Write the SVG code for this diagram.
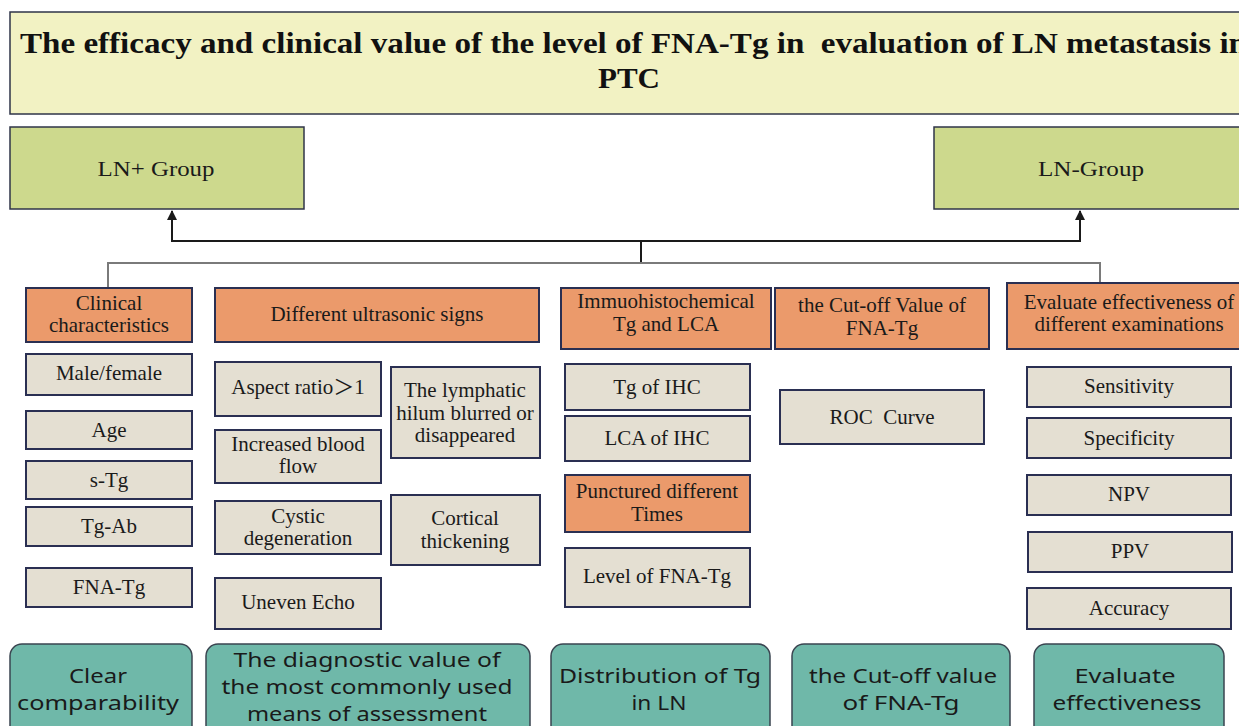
<svg xmlns="http://www.w3.org/2000/svg" width="1239" height="726" viewBox="0 0 1239 726">
<defs>
<style>
.title{fill:#f2f2c3;stroke:#2f3448;stroke-width:1.5}
.grp{fill:#cdd98d;stroke:#2f3448;stroke-width:1.5}
.org{fill:#eb9a6b;stroke:#2a2f52;stroke-width:2}
.gry{fill:#e4dfd2;stroke:#2a2f52;stroke-width:2}
.teal{fill:#6fb8a9;stroke:#3a4450;stroke-width:1.5}
.tt{font-family:"Liberation Serif",serif;font-weight:bold;font-size:30px;fill:#111}
.st{font-family:"Liberation Serif","Noto Sans CJK SC",serif;font-size:21px;fill:#1a1a1a;text-anchor:middle}
.gt{font-family:"Liberation Serif",serif;font-size:22px;fill:#1a1a1a;text-anchor:middle}
.sans{font-family:"Noto Sans","Open Sans",sans-serif;font-size:20px;fill:#1a1a1a;text-anchor:middle}
.ln{fill:none;stroke:#1a1a1a;stroke-width:2}
.ln2{fill:none;stroke:#7a7a7a;stroke-width:2}
</style>
<marker id="arr" viewBox="0 0 10 10" refX="9" refY="5" markerWidth="5" markerHeight="5" orient="auto">
<path d="M0,0 L10,5 L0,10 z" fill="#1a1a1a"/>
</marker>
</defs>
<rect width="1239" height="726" fill="#ffffff"/>

<g id="title">
<rect class="title" x="10" y="12" width="1240" height="102"/>
<text class="tt" x="20" y="53" textLength="1227" lengthAdjust="spacingAndGlyphs" xml:space="preserve">The efficacy and clinical value of the level of FNA-Tg in  evaluation of LN metastasis in</text>
<text class="tt" x="629" y="88" text-anchor="middle" textLength="62" lengthAdjust="spacingAndGlyphs">PTC</text>
</g>

<g id="ln-pos">
<rect class="grp" x="10" y="127" width="294" height="82"/>
<text class="gt" x="156" y="176" textLength="117" lengthAdjust="spacingAndGlyphs">LN+ Group</text>
</g>
<g id="ln-neg">
<rect class="grp" x="934" y="127" width="320" height="82"/>
<text class="gt" x="1091" y="176" textLength="106" lengthAdjust="spacingAndGlyphs">LN-Group</text>
</g>

<g id="connectors">
<polyline class="ln" points="641,241 172,241 172,211" marker-end="url(#arr)"/>
<polyline class="ln" points="641,241 1080,241 1080,211" marker-end="url(#arr)"/>
<line class="ln" x1="641" y1="241" x2="641" y2="264"/>
<polyline class="ln2" points="108,288 108,263 1100,263 1100,283"/>
</g>

<g id="clinical">
<rect class="org" x="26" y="288" width="166" height="54"/>
<text class="st" x="109" y="310">Clinical</text>
<text class="st" x="109" y="332">characteristics</text>
</g>
<g id="ultrasonic">
<rect class="org" x="215" y="288" width="324" height="54"/>
<text class="st" x="377" y="321">Different ultrasonic signs</text>
</g>
<g id="ihc">
<rect class="org" x="561" y="288" width="210" height="61"/>
<text class="st" x="666" y="308">Immuohistochemical</text>
<text class="st" x="666" y="331">Tg and LCA</text>
</g>
<g id="cutoff">
<rect class="org" x="775" y="288" width="214" height="61"/>
<text class="st" x="882" y="312">the Cut-off Value of</text>
<text class="st" x="882" y="335">FNA-Tg</text>
</g>
<g id="evaluate">
<rect class="org" x="1007" y="283" width="245" height="66"/>
<text class="st" x="1129" y="309">Evaluate effectiveness of</text>
<text class="st" x="1129" y="331">different examinations</text>
</g>

<g id="male"><rect class="gry" x="26" y="354" width="166" height="41"/><text class="st" x="109" y="380">Male/female</text></g>
<g id="age"><rect class="gry" x="26" y="411" width="166" height="38"/><text class="st" x="109" y="437">Age</text></g>
<g id="stg"><rect class="gry" x="26" y="461" width="166" height="38"/><text class="st" x="109" y="487">s-Tg</text></g>
<g id="tgab"><rect class="gry" x="26" y="507" width="166" height="39"/><text class="st" x="109" y="533">Tg-Ab</text></g>
<g id="fnatg"><rect class="gry" x="26" y="568" width="166" height="39"/><text class="st" x="109" y="594">FNA-Tg</text></g>

<g id="aspect"><rect class="gry" x="215" y="362" width="166" height="54"/><text class="st" x="298" y="394">Aspect ratio＞1</text></g>
<g id="blood"><rect class="gry" x="215" y="430" width="166" height="53"/><text class="st" x="298" y="451">Increased blood</text><text class="st" x="298" y="473">flow</text></g>
<g id="cystic"><rect class="gry" x="215" y="501" width="166" height="53"/><text class="st" x="298" y="523">Cystic</text><text class="st" x="298" y="545">degeneration</text></g>
<g id="uneven"><rect class="gry" x="215" y="578" width="166" height="51"/><text class="st" x="298" y="609">Uneven Echo</text></g>
<g id="lymph"><rect class="gry" x="391" y="367" width="149" height="91"/><text class="st" x="465" y="397">The lymphatic</text><text class="st" x="465" y="420">hilum blurred or</text><text class="st" x="465" y="442">disappeared</text></g>
<g id="cortical"><rect class="gry" x="391" y="495" width="149" height="70"/><text class="st" x="465" y="525">Cortical</text><text class="st" x="465" y="548">thickening</text></g>

<g id="tgihc"><rect class="gry" x="565" y="364" width="185" height="46"/><text class="st" x="657" y="394">Tg of IHC</text></g>
<g id="lcaihc"><rect class="gry" x="565" y="416" width="185" height="45"/><text class="st" x="657" y="445">LCA of IHC</text></g>
<g id="punctured"><rect class="org" x="565" y="475" width="185" height="57"/><text class="st" x="657" y="498">Punctured different</text><text class="st" x="657" y="521">Times</text></g>
<g id="level"><rect class="gry" x="565" y="548" width="185" height="59"/><text class="st" x="657" y="583">Level of FNA-Tg</text></g>

<g id="roc"><rect class="gry" x="780" y="390" width="204" height="54"/><text class="st" x="882" y="424" xml:space="preserve">ROC  Curve</text></g>

<g id="sens"><rect class="gry" x="1027" y="367" width="204" height="40"/><text class="st" x="1129" y="393">Sensitivity</text></g>
<g id="spec"><rect class="gry" x="1027" y="418" width="204" height="40"/><text class="st" x="1129" y="445">Specificity</text></g>
<g id="npv"><rect class="gry" x="1027" y="475" width="204" height="40"/><text class="st" x="1129" y="501">NPV</text></g>
<g id="ppv"><rect class="gry" x="1028" y="532" width="204" height="40"/><text class="st" x="1130" y="558">PPV</text></g>
<g id="acc"><rect class="gry" x="1027" y="588" width="204" height="41"/><text class="st" x="1129" y="615">Accuracy</text></g>

<g id="out-clear"><rect class="teal" x="10" y="644" width="182" height="100" rx="12"/><text class="sans" x="98" y="683" textLength="58" lengthAdjust="spacingAndGlyphs">Clear</text><text class="sans" x="98" y="710" textLength="162" lengthAdjust="spacingAndGlyphs">comparability</text></g>
<g id="out-diag"><rect class="teal" x="206" y="644" width="324" height="100" rx="12"/><text class="sans" x="367" y="667" textLength="267" lengthAdjust="spacingAndGlyphs">The diagnostic value of</text><text class="sans" x="367" y="694" textLength="291" lengthAdjust="spacingAndGlyphs">the most commonly used</text><text class="sans" x="367" y="721" textLength="240" lengthAdjust="spacingAndGlyphs">means of assessment</text></g>
<g id="out-dist"><rect class="teal" x="551" y="644" width="219" height="100" rx="12"/><text class="sans" x="660" y="683" textLength="202" lengthAdjust="spacingAndGlyphs">Distribution of Tg</text><text class="sans" x="659" y="710" textLength="55" lengthAdjust="spacingAndGlyphs">in LN</text></g>
<g id="out-cut"><rect class="teal" x="792" y="644" width="218" height="100" rx="12"/><text class="sans" x="903" y="683" textLength="188" lengthAdjust="spacingAndGlyphs">the Cut-off value</text><text class="sans" x="901" y="710" textLength="117" lengthAdjust="spacingAndGlyphs">of FNA-Tg</text></g>
<g id="out-eval"><rect class="teal" x="1034" y="644" width="190" height="100" rx="12"/><text class="sans" x="1125" y="683" textLength="101" lengthAdjust="spacingAndGlyphs">Evaluate</text><text class="sans" x="1127" y="710" textLength="149" lengthAdjust="spacingAndGlyphs">effectiveness</text></g>
</svg>
